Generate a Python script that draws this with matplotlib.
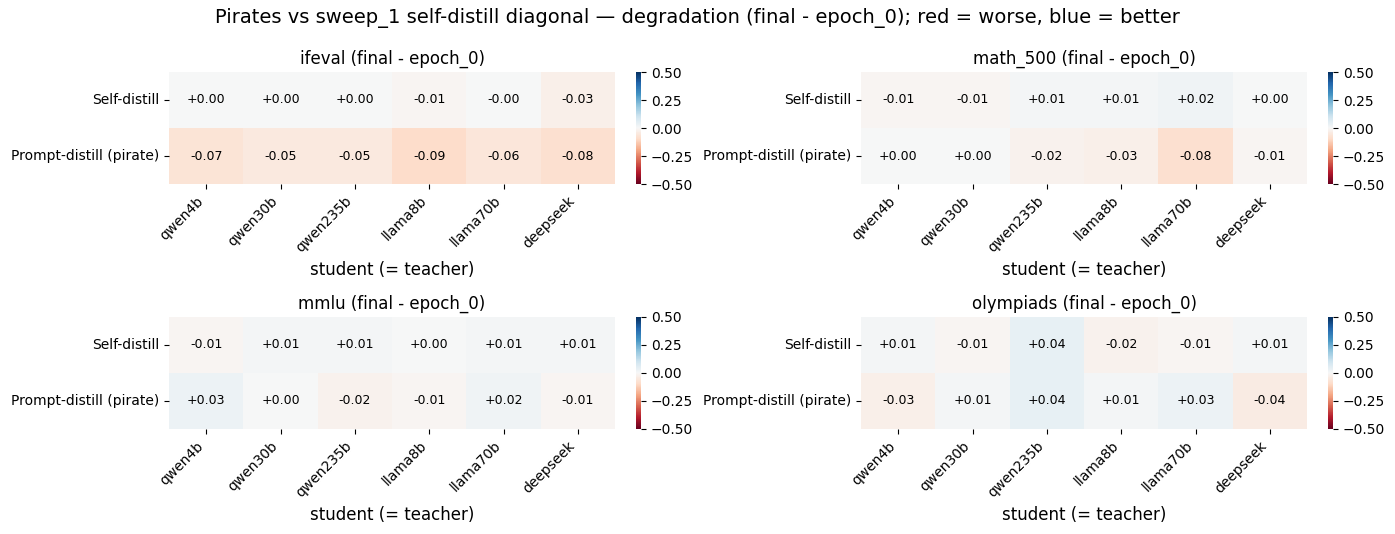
import numpy as np
import matplotlib
matplotlib.use("Agg")
import matplotlib.pyplot as plt
import seaborn as sns

models = ["qwen4b", "qwen30b", "qwen235b", "llama8b", "llama70b", "deepseek"]
rows = ["Self-distill", "Prompt-distill (pirate)"]

ifeval_self = [0.00, 0.00, 0.00, -0.01, -0.00, -0.03]
ifeval_pirate = [-0.07, -0.05, -0.05, -0.09, -0.06, -0.08]
math_self = [-0.01, -0.01, 0.01, 0.01, 0.02, 0.00]
math_pirate = [0.00, 0.00, -0.02, -0.03, -0.08, -0.01]
mmlu_self = [-0.01, 0.01, 0.01, 0.00, 0.01, 0.01]
mmlu_pirate = [0.03, 0.00, -0.02, -0.01, 0.02, -0.01]
olymp_self = [0.01, -0.01, 0.04, -0.02, -0.01, 0.01]
olymp_pirate = [-0.03, 0.01, 0.04, 0.01, 0.03, -0.04]

panels = [
    ("ifeval", ifeval_self, ifeval_pirate),
    ("math_500", math_self, math_pirate),
    ("mmlu", mmlu_self, mmlu_pirate),
    ("olympiads", olymp_self, olymp_pirate),
]

W, H = 1395, 534
fig = plt.figure(figsize=(W / 100, H / 100), dpi=100)

# pixel boxes (left, top) of heatmaps
lefts = [169, 861]
tops = [72, 317]
hw, hh = 446, 112
cb_off, cb_w = 467, 5

for i, (name, s, p) in enumerate(panels):
    r, c = divmod(i, 2)
    x0, y0 = lefts[c], tops[r]
    ax = fig.add_axes([x0 / W, 1 - (y0 + hh) / H, hw / W, hh / H])
    cax = fig.add_axes([(x0 + cb_off) / W, 1 - (y0 + hh) / H, cb_w / W, hh / H])
    data = np.array([s, p])
    sns.heatmap(data, ax=ax, cbar_ax=cax, cmap="RdBu", vmin=-0.5, vmax=0.5, center=0,
                annot=True, fmt="+.2f", annot_kws={"fontsize": 9, "color": "black"},
                xticklabels=models, yticklabels=rows)
    cax.set_yticks([-0.5, -0.25, 0, 0.25, 0.5])
    cax.set_yticklabels(["\u22120.50", "\u22120.25", "0.00", "0.25", "0.50"])
    ax.set_title(f"{name} (final - epoch_0)", fontsize=12)
    ax.set_xlabel("student (= teacher)", fontsize=12)
    ax.set_xticklabels(models, rotation=45, ha="right")
    ax.set_yticklabels(rows, rotation=0)

fig.suptitle("Pirates vs sweep_1 self-distill diagonal \u2014 degradation (final - epoch_0); red = worse, blue = better",
             fontsize=14, y=0.985)
fig.savefig("out.png")
